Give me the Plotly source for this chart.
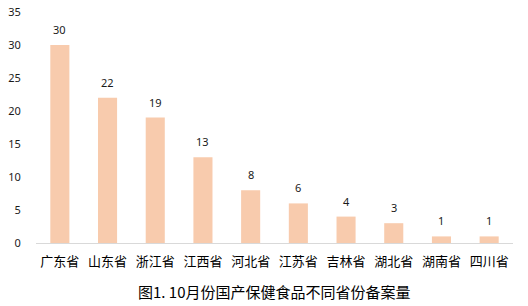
import plotly.graph_objects as go

provinces = ["广东省", "山东省", "浙江省", "江西省", "河北省", "江苏省", "吉林省", "湖北省", "湖南省", "四川省"]
counts = [30, 22, 19, 13, 8, 6, 4, 3, 1, 1]
y_ticks = [0, 5, 10, 15, 20, 25, 30, 35]
title_text = "图1. 10月份国产保健食品不同省份备案量"

fig = go.Figure(go.Bar(
    x=provinces, y=counts,
    marker=dict(color="#F8CBAD", line=dict(width=0)),
))
annotations = [dict(x=p, y=v, xref="x", yref="y", text=str(v), showarrow=False,
                    yanchor="bottom", yshift=6,
                    font=dict(family="Noto Sans, DejaVu Sans", size=11, color="#1a1a1a"))
               for p, v in zip(provinces, counts)]
annotations.append(dict(text=title_text, xref="paper", yref="paper", x=0.5, y=-0.212,
                        xanchor="center", yanchor="middle", showarrow=False,
                        font=dict(family="Noto Sans CJK SC", size=15, color="#000000")))
fig.update_layout(
    width=528, height=306,
    margin=dict(l=36, r=15, t=12, b=63),
    plot_bgcolor="white", paper_bgcolor="white",
    bargap=0.6, showlegend=False,
    xaxis=dict(showline=True, linecolor="#D9D9D9", linewidth=1, automargin=False,
               ticks="outside", ticklen=6, tickcolor="rgba(0,0,0,0)",
               ticklabeloverflow="allow",
               tickfont=dict(family="Noto Sans CJK SC", size=13, color="#000000")),
    yaxis=dict(range=[0, 35], tickvals=y_ticks, showgrid=False, zeroline=False,
               showline=False, automargin=False,
               ticks="outside", ticklen=12, tickcolor="rgba(0,0,0,0)",
               ticklabeloverflow="allow",
               tickfont=dict(family="Noto Sans, DejaVu Sans", size=11, color="#1a1a1a")),
    annotations=annotations,
)
fig.write_html("out.html", config={"displayModeBar": False},
               post_script="document.body.style.margin='0';document.body.style.overflow='hidden';")
